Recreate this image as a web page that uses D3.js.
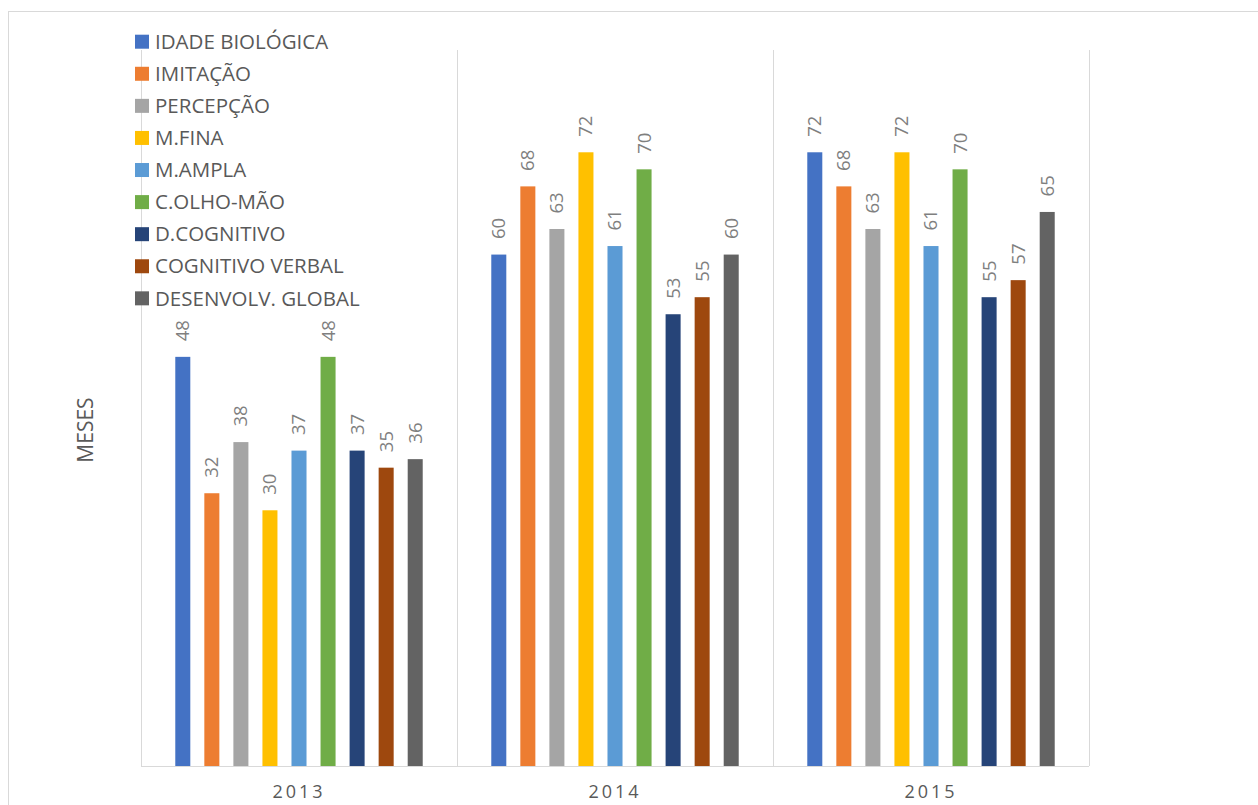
<!DOCTYPE html>
<html><head><meta charset="utf-8">
<script src="https://cdn.jsdelivr.net/npm/d3@7"></script>
<style>html,body{margin:0;padding:0;background:#fff;}svg{display:block;font-family:"Open Sans",sans-serif;}</style>
</head><body>
<svg id="c" width="1258" height="805"></svg>
<script>
const years = ["2013", "2014", "2015"];
const series = ["IDADE BIOLÓGICA","IMITAÇÃO","PERCEPÇÃO","M.FINA","M.AMPLA","C.OLHO-MÃO","D.COGNITIVO","COGNITIVO VERBAL","DESENVOLV. GLOBAL"];
const colors = ["#4472C4","#ED7D31","#A5A5A5","#FFC000","#5B9BD5","#70AD47","#264478","#9E480E","#636363"];
const v2013 = [48,32,38,30,37,48,37,35,36];
const v2014 = [60,68,63,72,61,70,53,55,60];
const v2015 = [72,68,63,72,61,70,55,57,65];
const values = [v2013, v2014, v2015];
const yMax = 84;

const svg = d3.select("#c");
const L = 141, R = 1089, T = 50, B = 766;

svg.append("rect").attr("x",8.5).attr("y",11.5).attr("width",1400).attr("height",1000)
  .attr("fill","#fff").attr("stroke","#d9d9d9").attr("stroke-width",1);

const x0 = d3.scaleBand().domain(years).range([L,R]).padding(0);
const x1 = d3.scaleBand().domain(series).range([0,x0.bandwidth()]).paddingInner(0.483).paddingOuter(1.18);
const y = d3.scaleLinear().domain([0,yMax]).range([B,T]);

// separators
const g = svg.append("g");
const seps = years.map(d=>x0(d)).concat([x0(years[years.length-1])+x0.bandwidth()]);
g.selectAll("line.sep").data(seps).join("line")
  .attr("x1",d=>Math.round(d)+0.5).attr("x2",d=>Math.round(d)+0.5)
  .attr("y1",T).attr("y2",B).attr("stroke","#d9d9d9").attr("stroke-width",1);

// bars
const grp = g.selectAll("g.yr").data(years).join("g").attr("transform",d=>`translate(${x0(d)},0)`);
grp.each(function(yr,i){
  const sel = d3.select(this);
  const data = series.map((s,j)=>({s, v: values[i][j], c: colors[j]}));
  sel.selectAll("rect").data(data).join("rect")
    .attr("x",d=>x1(d.s)).attr("width",x1.bandwidth())
    .attr("y",d=>y(d.v)).attr("height",d=>B-y(d.v)).attr("fill",d=>d.c);
  sel.selectAll("text").data(data).join("text")
    .attr("transform",d=>`translate(${x1(d.s)+x1.bandwidth()/2},${y(d.v)-15.5}) rotate(-90)`)
    .attr("dy","0.35em").attr("text-anchor","start")
    .attr("font-size",18.5).attr("fill","#7f7f7f").text(d=>d.v);
});

// x axis baseline
const xAxis = d3.axisBottom(x0).tickSize(0).tickPadding(20);
const ax = svg.append("g").attr("transform",`translate(0,${B+0.5})`).call(xAxis);
ax.select(".domain").attr("stroke","#d9d9d9").attr("d",`M${L},0H${R}`);
ax.selectAll("text").attr("font-size",18).attr("fill","#595959").attr("font-family","Open Sans")
  .attr("letter-spacing","3px").attr("dy","0.71em").attr("y",19);

// y title
svg.append("text").attr("transform","translate(86,430) rotate(-90)").attr("text-anchor","middle")
  .attr("dy","0.35em").attr("font-size",21).attr("fill","#595959").text("MESES");

// legend
const leg = svg.append("g");
series.forEach((s,j)=>{
  const cy = 41.7 + j*32.08;
  leg.append("rect").attr("x",135).attr("y",cy-7).attr("width",14).attr("height",14).attr("fill",colors[j]);
  leg.append("text").attr("x",155).attr("y",cy).attr("dy","0.35em").attr("font-size",20.5)
    .attr("fill","#595959").text(s);
});
</script>
</body></html>
